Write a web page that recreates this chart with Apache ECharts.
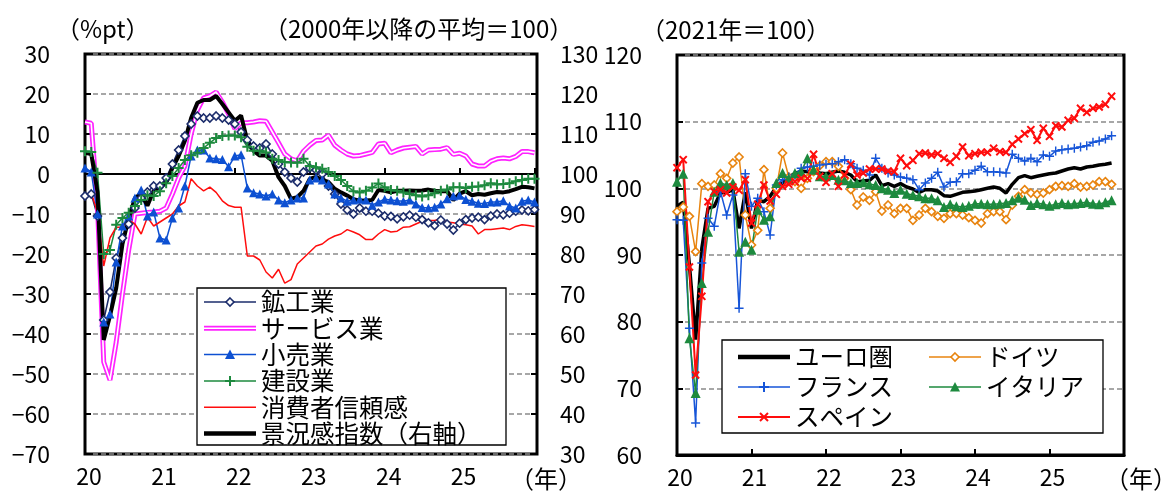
<!DOCTYPE html>
<html>
<head>
<meta charset="utf-8">
<script src="https://cdn.jsdelivr.net/npm/echarts@6/dist/echarts.min.js"></script>
<style>
  html, body { margin: 0; padding: 0; background: #fff; }
  #chart { width: 1167px; height: 496px; }
</style>
</head>
<body>
<div id="chart"></div>
<script>
// Monthly series starting January 2020 (index 0 = 2020-01).
const yearLabels = ['20', '21', '22', '23', '24', '25'];

// Left panel: euro area business & consumer survey (%pt), index on right axis
const industry = [-5.5, -5.0, -10.5, -36.5, -29.5, -21, -16, -12.5, -8.5, -6, -4.5, -3,
  -3, -1, 2.5, 6, 9.5, 12.5, 14.5, 14, 14, 14.5, 14, 13.5,
  12.5, 10.5, 8.5, 7, 6.5, 7.5, 5, 2.5, 0.5, -1, -2, 0.5,
  1.5, 1, 0, -3, -5, -7.5, -9, -10, -8.5, -9.3, -9.3, -9.8,
  -10.5, -10.6, -11.2, -10.7, -10.3, -10.8, -11.4, -12.2, -12.9, -11.5, -12.5, -14,
  -12.3, -11.4, -11, -10.8, -11.4, -10.5, -10, -10.2, -9.8, -9.3, -9.0, -9.2, -8.9];
const services = [13, 12.7, -8, -47, -51.5, -42, -30, -19, -10, -9.8, -9.6, -9.5,
  -9.3, -8.5, -5, -1, 2, 10, 16, 19, 19.5, 20.5, 18, 15,
  11.3, 12.8, 12.8, 13, 13.3, 13.2, 10.5, 7.8, 5, 3.8, 3.3, 5.7,
  7.2, 8.4, 8.5, 9.7, 7.2, 6, 5, 4.5, 4.6, 5, 5.4, 7.5,
  7.7, 5.3, 6, 6.5, 6.7, 6.9, 5, 6, 6.1, 6.2, 6.6, 4.9,
  5.2, 4.5, 2.5, 2.0, 2.0, 3.2, 3.8, 4.0, 3.8, 4.4, 5.6, 5.6, 5.3];
const retail = [1.5, 0.5, -10, -37, -35, -22, -13, -10.5, -6, -4, -10.5, -9.5,
  -16, -16.5, -11, -8.5, -3, 4.5, 6, 6, 4, 3.8, 3.6, 1.8,
  4.5, 4.8, -3.5, -4.7, -5, -5.5, -5, -6.5, -7.2, -6.5, -6, -6,
  -1.5, -1, -1.5, -2.5, -5, -6, -6.8, -6.5, -6.3, -6.5, -7.8, -7,
  -6.3, -6.5, -6.7, -6.8, -6.5, -7.5, -8.4, -8.5, -8.3, -7.5, -6.2, -5.5,
  -5.3, -6.4, -6.8, -7.3, -7.4, -7, -7, -6.7, -8, -8.5, -6.8, -6.5, -7];
const construction = [5.7, 5.5, 0.3, -20, -19, -12.7, -11, -9.7, -8, -6.5, -5.3, -5.5,
  -4.3, -2.3, -0.5, 1.5, 3.5, 4.7, 5.3, 6.5, 7.8, 9, 9.5, 9.6,
  9.6, 9.2, 6.8, 5.8, 5.8, 5.4, 3.8, 3.5, 3, 2.9, 2.8, 3.8,
  2.0, 1.7, 1.3, 0.5, -0.5, -1.5, -3, -4.3, -4.6, -4.2, -3.4, -2.4,
  -3.3, -4, -4.2, -4.6, -5, -5.3, -5.6, -5.3, -4.8, -4.2, -3.9, -3.3,
  -3.3, -3.5, -3.2, -3.1, -2.8, -2.3, -2.6, -2.5, -2.3, -1.8, -1.5, -1.2, -1.2];
const consumer = [-5.6, -4.8, -9.5, -23, -16, -13.3, -13.3, -11.5, -12.5, -15, -10.8, -13,
  -12, -11, -10, -8, -7, -1.2, -3, -4.2, -3.3, -4.6, -6.7, -7.9,
  -8.3, -8.3, -20.5, -20.5, -21.5, -24.5, -26, -23.8, -27.3, -26.4, -22.5, -21,
  -19.5, -18, -17.5, -16.3, -15.5, -15, -13.9, -14.5, -15.2, -16.4, -16.4, -15,
  -13.9, -14.5, -14.3, -13.3, -13.2, -12.5, -11.8, -11.6, -11.6, -11.2, -12, -12.2,
  -12.5, -12.7, -13, -15, -13.9, -13.9, -13.7, -13.5, -13.9, -13.1, -12.7, -12.9, -13.1];
const sentiment = [105.3, 105, 95.5, 58.5, 64.5, 71.5, 82.5, 89, 94, 95, 92.1, 95.8,
  96.7, 97.9, 101.5, 104.5, 108.3, 114, 117.8, 118.5, 118.5, 119.5, 117.5, 115.4,
  113.3, 114.6, 108.3, 105.8, 104.6, 104.6, 103.3, 99.2, 97, 93.8, 94.2, 95.8,
  98.8, 99.3, 98.5, 98, 96.3, 95.4, 94.6, 93.7, 93.3, 93.4, 93.5, 96,
  95.8, 95.4, 95.8, 95.8, 95.9, 95.8, 95.9, 96.1, 95.8, 95.7, 95.7, 93.5,
  95.1, 95.7, 94.7, 95, 94.8, 95.2, 95.5, 95.4, 95.7, 96.2, 96.8, 96.7, 96.4];

// Right panel: volume index (2021 = 100)
const euroArea = [97.3, 97.9, 88.5, 77.3, 91, 97, 97.3, 99.3, 99.4, 99.8, 94, 99.4,
  94, 98.2, 98, 98.8, 100.2, 100.8, 101.7, 102.2, 102.6, 102.5, 102.6, 102.3,
  102.2, 102.4, 102.6, 102.4, 102, 101, 101.1, 101.2, 102, 100.4, 100.7, 100.3,
  100.7, 100.2, 99.9, 99.4, 99.8, 99.8, 99.6, 98.9, 98.8, 99.1, 99.4, 99.5,
  99.6, 99.8, 100, 100.2, 100, 99.3, 100.6, 101.6, 101.9, 101.6, 101.8, 102,
  102.2, 102.3, 102.6, 102.9, 103.1, 102.9, 103.2, 103.3, 103.5, 103.6, 103.8];
const germany = [96.5, 97.2, 95.8, 90.5, 100.7, 100.3, 100.5, 102.2, 101.5, 103.8, 104.7, 96,
  91.5, 93.7, 102.8, 97, 100, 105.3, 101.7, 101, 100, 101.5, 102.5, 103.4,
  104, 104, 103.3, 101.5, 99.8, 97.5, 98.7, 98.2, 99.5, 96.6, 97.5, 96.2,
  97, 97, 95.2, 96, 97, 96.5, 95.8, 95.5, 96.2, 96.2, 96, 95.6,
  95.2, 94.8, 96.2, 96.5, 96.5, 95.3, 97.5, 98.8, 99.8, 99.3, 99.1, 99.3,
  99.8, 100.3, 100.4, 100.3, 100.7, 100.2, 100.3, 100.5, 101, 101, 100.6];
const france = [95.3, 95.2, 79, 64.8, 88.8, 95.5, 94.3, 99.5, 96, 99, 82, 102.2,
  97.3, 98.5, 96.5, 93, 100.5, 101.3, 101.7, 102, 103, 103.2, 103.3, 103.5,
  103.6, 103.7, 104, 104.3, 103.7, 103, 102.7, 102, 104.5, 103, 102.3, 102,
  101.7, 101.5, 101.3, 99.8, 100.8, 101.5, 102.4, 100.2, 100.9, 101, 102.2, 102.2,
  102.7, 103.3, 102.5, 102.5, 102.4, 102.3, 105.1, 104.5, 104.1, 104.5, 104, 105,
  104.8, 105.6, 105.8, 105.9, 106, 106.2, 106.4, 106.9, 107.1, 107.4, 107.9];
const italy = [101, 102.2, 77.5, 69.3, 85.8, 93.5, 99.5, 100.8, 100.5, 100.8, 90.5, 92,
  90.8, 96.8, 95.3, 95.8, 100.8, 102.3, 101.5, 102.3, 102.5, 104.5, 102.8, 101.8,
  101.8, 102, 101.3, 101.2, 100.8, 100.8, 100.9, 100.6, 100.5, 100, 99.8, 99.3,
  99.8, 99.2, 99, 98.8, 98.5, 98.5, 98.2, 97.2, 97.6, 97.3, 97.2, 97.4,
  97.7, 97.7, 97.6, 97.6, 97.7, 97.8, 98.2, 98.6, 98.3, 97.5, 97.8, 97.6,
  97.4, 97.6, 97.8, 97.6, 97.7, 97.8, 97.9, 97.7, 97.6, 97.9, 98.2];
const spain = [103.1, 104.3, 88.2, 72, 83.8, 98, 99.5, 99.8, 99.3, 100.2, 99.7, 101.3,
  94.8, 97.6, 100.5, 98.1, 99.1, 100.3, 100.6, 101, 101.5, 101.5, 105.1, 101.8,
  100.9, 102.2, 100.3, 102, 103.6, 102, 102.3, 102.9, 102.9, 102.9, 102.6, 102.5,
  104.5, 103.4, 104.2, 105.2, 105.3, 105, 105.2, 104.5, 103.9, 104.8, 106.2, 104.9,
  105.2, 105.4, 105.4, 106, 105.5, 105.4, 106.6, 107.4, 108.2, 108.8, 107.2, 109,
  107.8, 109.4, 109.2, 110.2, 110.5, 112, 111.4, 112, 112.2, 112.6, 113.8];

const FONT = '"Noto Sans CJK JP", "Noto Sans", sans-serif';
const NAVY = '#1b2c6b', MAGENTA = '#ff22ff', BLUE_L = '#0d50d2', GREEN = '#1d8a3e',
      RED = '#ff0d0d', ORANGE = '#e8840f', BLUE_R = '#1655d8';
const PLUS = 'path://M40,0H60V40H100V60H60V100H40V60H0V40H40Z';
const PLUS_THIN = 'path://M42,0H58V42H100V58H58V100H42V58H0V42H42Z';

const toPairs = vals => vals.map((v, i) => [i, v]);

// legend swatches drawn as small SVG images (line + marker)
function swatch(o) {
  const w = 52, h = 14, c = h / 2;
  let s = '<svg xmlns="http://www.w3.org/2000/svg" width="' + w + '" height="' + h + '" viewBox="0 0 ' + w + ' ' + h + '">';
  s += '<line x1="0" y1="' + c + '" x2="' + w + '" y2="' + c + '" stroke="' + o.color + '" stroke-width="' + o.width + '"/>';
  if (o.inner) s += '<line x1="0" y1="' + c + '" x2="' + w + '" y2="' + c + '" stroke="#fff" stroke-width="' + o.inner + '"/>';
  const m = w / 2;
  if (o.marker === 'diamond') s += '<polygon points="' + m + ',3 ' + (m + 4) + ',7 ' + m + ',11 ' + (m - 4) + ',7" fill="#fff" stroke="' + o.color + '" stroke-width="1.6"/>';
  if (o.marker === 'triangle') s += '<polygon points="' + m + ',2 ' + (m + 5) + ',11.5 ' + (m - 5) + ',11.5" fill="' + o.color + '"/>';
  if (o.marker === 'plus') s += '<path d="M' + m + ',2V12M' + (m - 5) + ',7H' + (m + 5) + '" stroke="' + o.color + '" stroke-width="2"/>';
  if (o.marker === 'cross') s += '<path d="M' + (m - 4) + ',3L' + (m + 4) + ',11M' + (m - 4) + ',11L' + (m + 4) + ',3" stroke="' + o.color + '" stroke-width="2"/>';
  s += '</svg>';
  return 'image://data:image/svg+xml;charset=utf-8,' + encodeURIComponent(s);
}

const yearFormatter = v => (v % 12 === 0 && v / 12 < yearLabels.length) ? yearLabels[v / 12] : '';
const signed = v => (v < 0 ? '−' + Math.abs(v) : String(v));

const tickStyle = { inside: true, length: 6, lineStyle: { color: '#000', width: 2 } };
const gridDash = { show: true, lineStyle: { color: '#8a8a8a', type: [5, 3], width: 1.5 } };
const numLabel = { fontSize: 23, color: '#000', fontFamily: FONT };
const legendText = { fontSize: 24.5, lineHeight: 26, color: '#000', fontFamily: FONT };
const titleFont = '24px ' + FONT;

const option = {
  animation: false,
  backgroundColor: '#fff',
  textStyle: { fontFamily: FONT, color: '#000' },
  grid: [
    { left: 85, top: 54, width: 452, height: 400, show: true, borderColor: '#000', borderWidth: 3 },
    { left: 677, top: 55, width: 447, height: 400, show: true, borderColor: '#000', borderWidth: 3 }
  ],
  xAxis: [
    { gridIndex: 0, type: 'value', min: 0, max: 72.4, interval: 12,
      axisLine: { show: false, onZero: false }, axisTick: { show: false }, splitLine: { show: false },
      axisLabel: Object.assign({ margin: 11, formatter: yearFormatter, padding: [0, 0, 0, 8], showMaxLabel: false }, numLabel) },
    { gridIndex: 0, type: 'value', min: 0, max: 72.4, interval: 12, position: 'bottom',
      axisLine: { show: true, onZero: true, onZeroAxisIndex: 0, lineStyle: { color: '#000', width: 2 } },
      axisTick: tickStyle, axisLabel: { show: false }, splitLine: { show: false } },
    { gridIndex: 1, type: 'value', min: 0, max: 72, interval: 12,
      axisLine: { show: true, onZero: false, lineStyle: { color: '#000', width: 3 } },
      axisTick: tickStyle, splitLine: { show: false },
      axisLabel: Object.assign({ margin: 11, formatter: yearFormatter, padding: [0, 0, 0, 6] }, numLabel) }
  ],
  yAxis: [
    { gridIndex: 0, type: 'value', min: -70, max: 30, interval: 10, position: 'left',
      axisLine: { show: false, onZero: false }, axisTick: tickStyle, splitLine: gridDash,
      axisLabel: Object.assign({ margin: 35, formatter: signed }, numLabel) },
    { gridIndex: 0, type: 'value', min: 30, max: 130, interval: 10, position: 'right',
      axisLine: { show: false, onZero: false }, axisTick: tickStyle, splitLine: { show: false },
      axisLabel: Object.assign({ margin: 23 }, numLabel) },
    { gridIndex: 1, type: 'value', min: 60, max: 120, interval: 10, position: 'left',
      axisLine: { show: false, onZero: false }, axisTick: tickStyle, splitLine: gridDash,
      axisLabel: Object.assign({ margin: 35 }, numLabel) }
  ],
  legend: [
    { orient: 'vertical', left: 204, top: 289, padding: 0, itemGap: 0.3, itemWidth: 52, itemHeight: 14,
      selectedMode: false, textStyle: legendText, z: 6,
      data: [
        { name: '鉱工業', icon: swatch({ color: NAVY, width: 1.5, marker: 'diamond' }) },
        { name: 'サービス業', icon: swatch({ color: MAGENTA, width: 5, inner: 1.6 }) },
        { name: '小売業', icon: swatch({ color: BLUE_L, width: 1.5, marker: 'triangle' }) },
        { name: '建設業', icon: swatch({ color: GREEN, width: 1.5, marker: 'plus' }) },
        { name: '消費者信頼感', icon: swatch({ color: RED, width: 1.5 }) },
        { name: '景況感指数（右軸）', icon: swatch({ color: '#000', width: 4.5 }) }
      ] },
    { orient: 'vertical', left: 738, top: 344, padding: 0, itemGap: 4, itemWidth: 52, itemHeight: 14,
      selectedMode: false, textStyle: legendText, z: 6,
      data: [
        { name: 'ユーロ圏', icon: swatch({ color: '#000', width: 4.5 }) },
        { name: 'フランス', icon: swatch({ color: BLUE_R, width: 1.5, marker: 'plus' }) },
        { name: 'スペイン', icon: swatch({ color: RED, width: 2, marker: 'cross' }) }
      ] },
    { orient: 'vertical', left: 929, top: 344, padding: 0, itemGap: 4, itemWidth: 52, itemHeight: 14,
      selectedMode: false, textStyle: legendText, z: 6,
      data: [
        { name: 'ドイツ', icon: swatch({ color: ORANGE, width: 1.5, marker: 'diamond' }) },
        { name: 'イタリア', icon: swatch({ color: GREEN, width: 1.5, marker: 'triangle' }) }
      ] }
  ],
  graphic: [
    { type: 'rect', z: 5, shape: { x: 197, y: 288, width: 309, height: 157 },
      style: { fill: '#fff', stroke: '#000', lineWidth: 1.3 } },
    { type: 'rect', z: 5, shape: { x: 722, y: 340, width: 381, height: 93 },
      style: { fill: '#fff', stroke: '#000', lineWidth: 1.3 } },
    { type: 'text', x: 56, y: 29, style: { text: '（%pt）', font: titleFont, fill: '#000', textVerticalAlign: 'middle' } },
    { type: 'text', x: 264, y: 29, style: { text: '（2000年以降の平均＝100）', font: titleFont, fill: '#000', textVerticalAlign: 'middle' } },
    { type: 'text', x: 641, y: 30, style: { text: '（2021年＝100）', font: titleFont, fill: '#000', textVerticalAlign: 'middle' } },
    { type: 'text', x: 546, y: 479, style: { text: '（年）', font: titleFont, fill: '#000', textAlign: 'center', textVerticalAlign: 'middle' } },
    { type: 'text', x: 1141, y: 479, style: { text: '（年）', font: titleFont, fill: '#000', textAlign: 'center', textVerticalAlign: 'middle' } }
  ],
  series: [
    { name: '鉱工業', type: 'line', xAxisIndex: 0, yAxisIndex: 0, data: toPairs(industry),
      symbol: 'diamond', symbolSize: 8, lineStyle: { color: NAVY, width: 1.5 },
      itemStyle: { color: '#fff', borderColor: NAVY, borderWidth: 1.6 } },
    { name: 'サービス業', type: 'line', xAxisIndex: 0, yAxisIndex: 0, data: toPairs(services),
      symbol: 'none', lineStyle: { color: MAGENTA, width: 5 }, itemStyle: { color: MAGENTA } },
    { name: 'サービス業', type: 'line', xAxisIndex: 0, yAxisIndex: 0, data: toPairs(services),
      symbol: 'none', lineStyle: { color: '#fff', width: 1.6 }, itemStyle: { color: '#fff' } },
    { name: '小売業', type: 'line', xAxisIndex: 0, yAxisIndex: 0, data: toPairs(retail),
      symbol: 'triangle', symbolSize: 9, lineStyle: { color: BLUE_L, width: 1.5 }, itemStyle: { color: BLUE_L } },
    { name: '建設業', type: 'line', xAxisIndex: 0, yAxisIndex: 0, data: toPairs(construction),
      symbol: PLUS, symbolSize: 10, lineStyle: { color: GREEN, width: 1.5 }, itemStyle: { color: GREEN } },
    { name: '消費者信頼感', type: 'line', xAxisIndex: 0, yAxisIndex: 0, data: toPairs(consumer),
      symbol: 'none', lineStyle: { color: RED, width: 1.5 }, itemStyle: { color: RED } },
    { name: '景況感指数（右軸）', type: 'line', xAxisIndex: 0, yAxisIndex: 1, data: toPairs(sentiment),
      symbol: 'none', lineStyle: { color: '#000', width: 4 }, itemStyle: { color: '#000' } },

    { name: 'ユーロ圏', type: 'line', xAxisIndex: 2, yAxisIndex: 2, data: toPairs(euroArea),
      symbol: 'none', lineStyle: { color: '#000', width: 3.5 }, itemStyle: { color: '#000' } },
    { name: 'ドイツ', type: 'line', xAxisIndex: 2, yAxisIndex: 2, data: toPairs(germany),
      symbol: 'diamond', symbolSize: 8, lineStyle: { color: ORANGE, width: 1.5 },
      itemStyle: { color: '#fff', borderColor: ORANGE, borderWidth: 1.6 } },
    { name: 'フランス', type: 'line', xAxisIndex: 2, yAxisIndex: 2, data: toPairs(france),
      symbol: PLUS_THIN, symbolSize: 9, lineStyle: { color: BLUE_R, width: 1.5 }, itemStyle: { color: BLUE_R } },
    { name: 'イタリア', type: 'line', xAxisIndex: 2, yAxisIndex: 2, data: toPairs(italy),
      symbol: 'triangle', symbolSize: 10, lineStyle: { color: GREEN, width: 1.5 }, itemStyle: { color: GREEN } },
    { name: 'スペイン', type: 'line', xAxisIndex: 2, yAxisIndex: 2, data: toPairs(spain),
      symbol: PLUS, symbolSize: 10, symbolRotate: 45, lineStyle: { color: RED, width: 2 }, itemStyle: { color: RED } }
  ]
};

const chart = echarts.init(document.getElementById('chart'), null, { renderer: 'canvas' });
chart.setOption(option);
</script>
</body>
</html>
